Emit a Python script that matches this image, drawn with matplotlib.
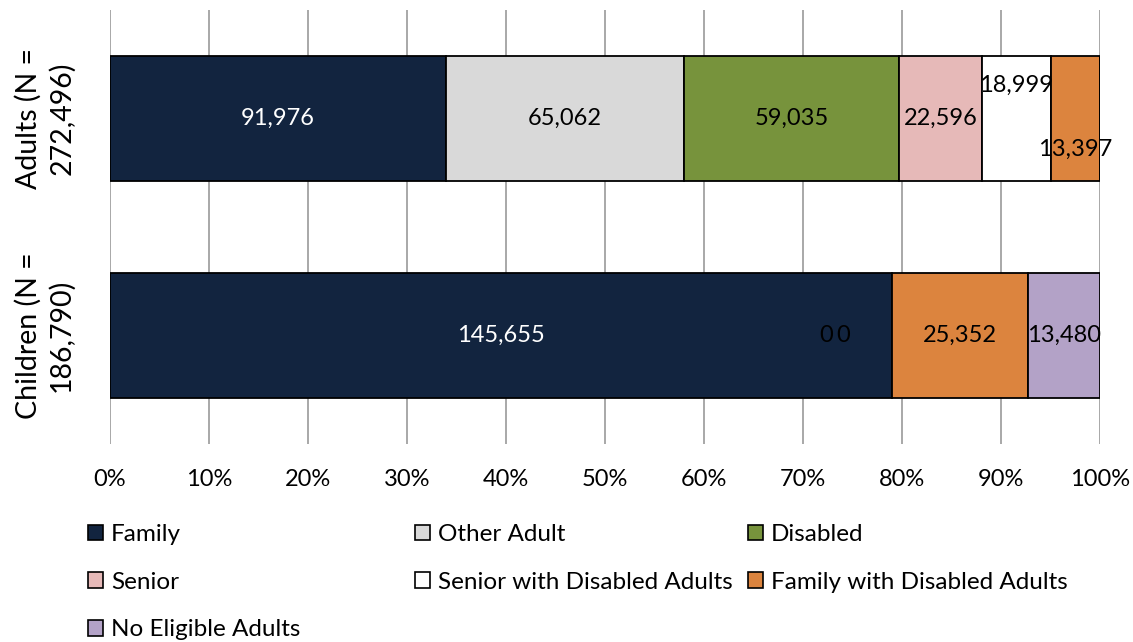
import numpy as np
import matplotlib
matplotlib.use("Agg")
import matplotlib.pyplot as plt
from matplotlib.patches import Patch

plt.rcParams['font.family'] = ['Lato', 'DejaVu Sans']

# data
groups = ["Children (N =\n186,790)", "Adults (N =\n272,496)"]
series = ["Family", "Other Adult", "Disabled", "Senior",
          "Senior with Disabled Adults", "Family with Disabled Adults",
          "No Eligible Adults"]
adults = [91976, 65062, 59035, 22596, 18999, 13397, 0]
children = [145655, 0, 0, 0, 0, 25352, 13480]
colors = ['#12243F', '#D9D9D9', '#77933C', '#E6B9B8', '#FFFFFF', '#DC843E', '#B3A2C7']
text_colors = ['white', 'black', 'black', 'black', 'black', 'black', 'black']
xticks = np.arange(0, 1.01, 0.1)

vals = np.array([children, adults], dtype=float)
share = vals / vals.sum(axis=1, keepdims=True)

fig = plt.figure(figsize=(11.33, 6.42), dpi=100)
ax = fig.add_axes([110/1133, 1-444/642, 990/1133, 434/642])

FS = 17
y = np.arange(len(groups))
left = np.zeros(len(groups))
for i, name in enumerate(series):
    ax.barh(y, share[:, i], left=left, height=0.576, color=colors[i],
            edgecolor='black', linewidth=1.3, zorder=3, label=name)
    for j in range(len(groups)):
        v = vals[j, i]
        if j == 1 and v == 0:
            continue
        cx = left[j] + share[j, i] / 2
        dx, dy = 0, 0
        if j == 1 and i == 4:
            dy = 24
        if j == 1 and i == 5:
            dy = -22
        if j == 0 and v == 0:
            dx = -47 if i == 1 else -35
            if i > 2:
                continue
        ax.annotate(f"{int(v):,}", (cx, y[j]), xytext=(dx, dy),
                    textcoords='offset points', ha='center', va='center',
                    fontsize=FS, color=text_colors[i], zorder=5)
    left += share[:, i]

# style
ax.set_xlim(0, 1)
ax.set_ylim(-0.5, 1.5)
ax.set_xticks(xticks)
ax.set_xticklabels([f"{int(round(t*100))}%" for t in xticks], fontsize=FS)
ax.set_yticks(y)
ax.set_yticklabels(groups, fontsize=20.5, rotation=90, va='center',
                   ha='center', multialignment='center', linespacing=1.3)
ax.tick_params(axis='y', length=0, pad=47)
ax.tick_params(axis='x', length=0, pad=18)
for s in ax.spines.values():
    s.set_visible(False)
ax.grid(axis='x', color='#999999', linewidth=1.2, zorder=0)
ax.set_axisbelow(True)

# legend, row-wise like the original
handles = [Patch(facecolor=c, edgecolor='black', linewidth=1.2) for c in colors]
cols = [[0, 3, 6], [1, 4], [2, 5]]
col_x = [88, 415, 748]
for cx, idx in zip(col_x, cols):
    fig.legend([handles[k] for k in idx], [series[k] for k in idx],
               loc='upper left', bbox_to_anchor=(cx/1133, 1-524/642),
               frameon=False, fontsize=17.5, handlelength=0.6, handleheight=0.6,
               handletextpad=0.35, labelspacing=1.1, borderpad=0, borderaxespad=0)

fig.savefig("out.png", dpi=100)
